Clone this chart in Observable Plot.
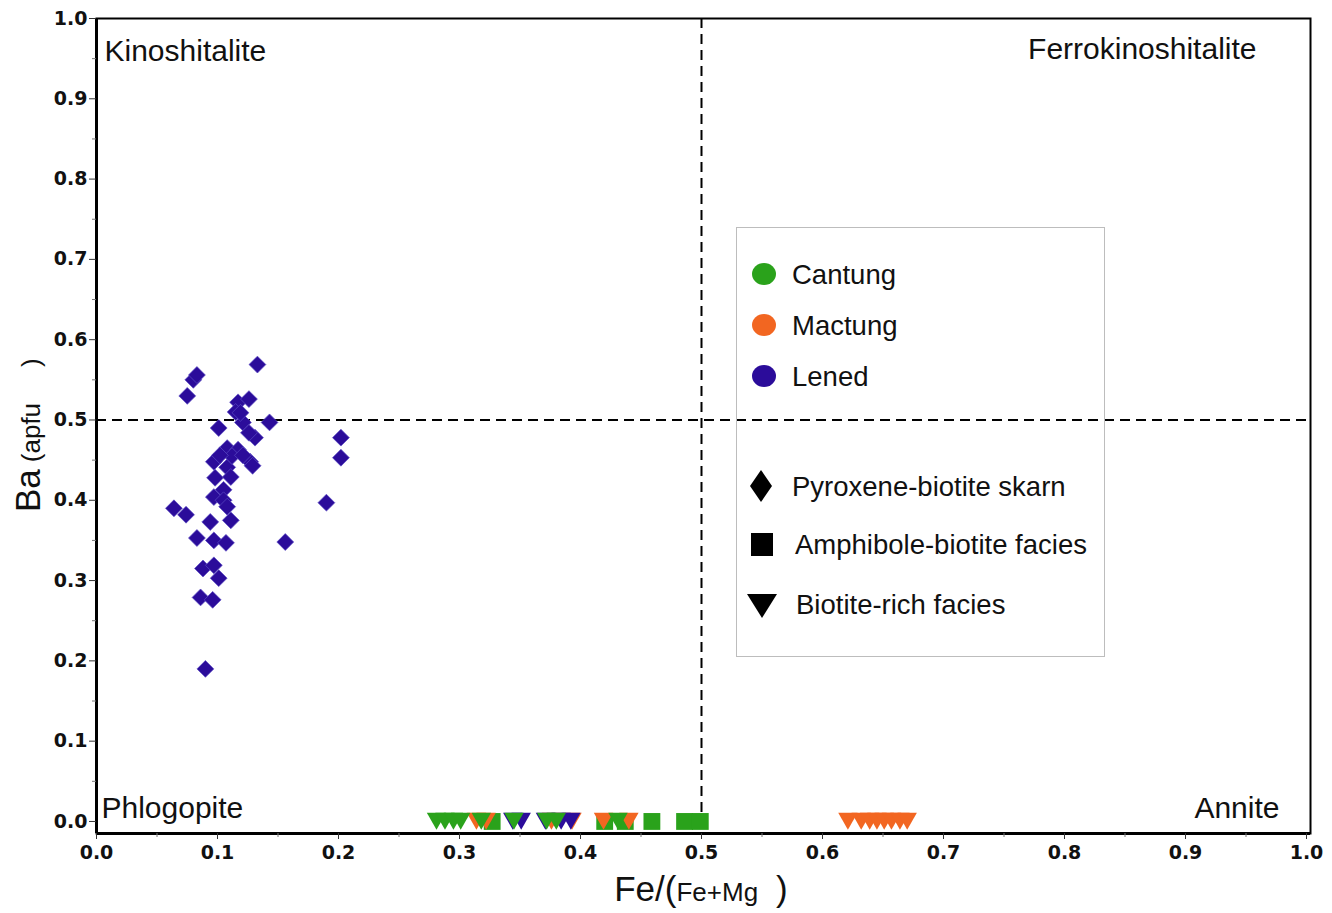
<!DOCTYPE html>
<html><head><meta charset="utf-8">
<script src="https://cdn.jsdelivr.net/npm/d3@7"></script>
<script src="https://cdn.jsdelivr.net/npm/@observablehq/plot@0.6"></script>
<style>
body{margin:0;background:#fff;}
#wrap{position:relative;width:1332px;height:913px;overflow:hidden;}
#legend{position:absolute;left:736px;top:227px;}
</style></head><body><div id="wrap"></div>
<script>
// ---- data ----
const series = ["Cantung", "Mactung", "Lened"];
const seriesColors = ["#2aa21b", "#f26621", "#2b0c9a"];
const faciesNames = ["Pyroxene-biotite skarn", "Amphibole-biotite facies", "Biotite-rich facies"];
const quadrantLabels = ["Kinoshitalite", "Ferrokinoshitalite", "Phlogopite", "Annite"];

// Lened, pyroxene-biotite skarn (Fe/(Fe+Mg), Ba apfu)
const lenedPyxX = [0.133,0.080,0.083,0.075,0.117,0.126,0.115,0.121,0.101,0.143,0.131,0.202,0.202,0.190,0.156,0.119,0.126,0.108,0.117,0.127,0.097,0.108,0.129,0.098,0.111,0.105,0.097,0.105,0.064,0.074,0.108,0.094,0.111,0.083,0.097,0.107,0.088,0.097,0.101,0.086,0.096,0.090,0.112,0.121,0.102];
const lenedPyxY = [0.569,0.550,0.556,0.530,0.522,0.526,0.510,0.497,0.490,0.497,0.478,0.478,0.453,0.397,0.348,0.509,0.484,0.465,0.463,0.448,0.448,0.441,0.443,0.428,0.429,0.413,0.404,0.400,0.390,0.382,0.392,0.373,0.375,0.353,0.350,0.347,0.315,0.319,0.303,0.279,0.276,0.190,0.455,0.456,0.456];

// Ba = 0 samples
const cantungSqX = [0.327,0.420,0.437,0.459,0.486,0.499];
const cantungSqY = [0,0,0,0,0,0];
const cantungTriX = [0.281,0.288,0.295,0.301,0.318,0.345,0.372,0.380,0.431];
const cantungTriY = [0,0,0,0,0,0,0,0,0];
const mactungTriX = [0.314,0.322,0.376,0.393,0.419,0.440,0.621,0.632,0.639,0.645,0.651,0.657,0.664,0.670];
const mactungTriY = [0,0,0,0,0,0,0,0,0,0,0,0,0,0];
const lenedTriX = [0.344,0.351,0.371,0.384,0.392];
const lenedTriY = [0,0,0,0,0];

const xTicks = [0,0.1,0.2,0.3,0.4,0.5,0.6,0.7,0.8,0.9,1.0];
const xMinorTicks = [0.05,0.15,0.25,0.35,0.45,0.55,0.65,0.75,0.85,0.95];
const yTicks = [0,0.1,0.2,0.3,0.4,0.5,0.6,0.7,0.8,0.9,1.0];
const yMinorTicks = [0.05,0.15,0.25,0.35,0.45,0.55,0.65,0.75,0.85,0.95];
const boundary = [0.5];

// ---- build tables ----
const rows = (xs, ys, s) => xs.map((x, i) => ({x, y: ys[i], series: s}));
const diamonds = rows(lenedPyxX, lenedPyxY, "Lened");
const squares = rows(cantungSqX, cantungSqY, "Cantung");
const triangles = [
  ...rows(mactungTriX, mactungTriY, "Mactung"),
  ...rows(lenedTriX, lenedTriY, "Lened"),
  ...rows(cantungTriX, cantungTriY, "Cantung")
];

const fmt = d3.format(".1f");
const tickFont = {fontSize: 19, fontWeight: "bold", fontFamily: "DejaVu Sans, Verdana, sans-serif"};

const chart = Plot.plot({
  width: 1332, height: 913,
  marginLeft: 96, marginRight: 22, marginTop: 18, marginBottom: 80,
  x: {domain: [0, 1.0033], axis: null},
  y: {domain: [-0.015, 1.0], axis: null},
  color: {domain: series, range: seriesColors},
  style: {fontFamily: "'Liberation Sans', Arial, sans-serif", background: "white", overflow: "visible"},
  marks: [
    Plot.ruleX(boundary, {stroke: "black", strokeWidth: 2, strokeDasharray: "10,6"}),
    Plot.ruleY(boundary, {stroke: "black", strokeWidth: 2, strokeDasharray: "10,6"}),
    Plot.dot(squares, {x: "x", y: "y", symbol: "square", r: 9.5, fill: "series"}),
    Plot.dot(triangles, {x: "x", y: "y", symbol: "triangle", rotate: 180, r: 7.2, fill: "series", dy: -3}),
    Plot.dot(diamonds, {x: "x", y: "y", symbol: "diamond2", r: 7.6, fill: "series", stroke: "#5b4cc4", strokeWidth: 0.7}),
    Plot.text([quadrantLabels[0]], {text: d => d, frameAnchor: "top-left", textAnchor: "start", lineAnchor: "middle", dx: 8, dy: 33, fontSize: 30, fill: "#111"}),
    Plot.text([quadrantLabels[1]], {text: d => d, frameAnchor: "top-right", textAnchor: "end", lineAnchor: "middle", dx: -54, dy: 31, fontSize: 30, fill: "#111"}),
    Plot.text([quadrantLabels[2]], {text: d => d, frameAnchor: "bottom-left", textAnchor: "start", lineAnchor: "middle", dx: 5, dy: -25, fontSize: 30, fill: "#111"}),
    Plot.text([quadrantLabels[3]], {text: d => d, frameAnchor: "bottom-right", textAnchor: "end", lineAnchor: "middle", dx: -31, dy: -25, fontSize: 30, fill: "#111"}),
    Plot.frame({stroke: "black", strokeWidth: 2}),
    Plot.ruleX([0], {stroke: "black", strokeWidth: 3}),
    Plot.ruleY([-0.015], {stroke: "black", strokeWidth: 3}),
    Plot.axisX(xTicks, {anchor: "bottom", label: null, tickSize: 6, tickPadding: 6, tickFormat: fmt, ...tickFont, fill: "#111", stroke: "#333"}),
    Plot.axisX(xMinorTicks, {anchor: "bottom", label: null, tickSize: 4, tickFormat: () => "", stroke: "#777"}),
    Plot.axisY(yTicks, {anchor: "left", label: null, tickSize: 7, tickPadding: 2, tickFormat: fmt, ...tickFont, fill: "#111", stroke: "#333"}),
    Plot.axisY(yMinorTicks, {anchor: "left", label: null, tickSize: 4, tickFormat: () => "", stroke: "#777"})
  ]
});

const wrap = document.getElementById("wrap");
wrap.appendChild(chart);

// ---- axis titles ----
const svg = d3.select(chart);
const xt = svg.append("text").attr("x", 701).attr("y", 901).attr("text-anchor", "middle")
  .attr("font-family", "'Liberation Sans', Arial, sans-serif").attr("fill", "#111");
xt.append("tspan").attr("font-size", 35).text("Fe/(");
xt.append("tspan").attr("font-size", 26).text("Fe+Mg");
xt.append("tspan").attr("font-size", 35).attr("dx", 18).text(")");

const yt = svg.append("text").attr("transform", "translate(40,512) rotate(-90)").attr("text-anchor", "start")
  .attr("font-family", "'Liberation Sans', Arial, sans-serif").attr("fill", "#111");
yt.append("tspan").attr("font-size", 35).text("Ba");
yt.append("tspan").attr("font-size", 26).attr("dx", 7).text("(apfu");
yt.append("tspan").attr("font-size", 26).attr("dx", 36).text(")");

// ---- legend ----
const lg = d3.select(wrap).append("svg").attr("id", "legend").attr("width", 370).attr("height", 431);
lg.append("rect").attr("x", 0.5).attr("y", 0.5).attr("width", 368).attr("height", 429)
  .attr("fill", "none").attr("stroke", "#bdbdbd").attr("stroke-width", 1);
const rowY = [47, 98, 149];
series.forEach((s, i) => {
  lg.append("ellipse").attr("cx", 28).attr("cy", rowY[i]).attr("rx", 12).attr("ry", 11).attr("fill", seriesColors[i]);
  lg.append("text").attr("x", 56).attr("y", rowY[i]).attr("dy", "0.35em").attr("font-size", 27.5)
    .attr("font-family", "'Liberation Sans', Arial, sans-serif").attr("fill", "#111").text(s);
});
const fY = [259, 317, 377];
const fX = [56, 59, 60];
lg.append("polygon").attr("points", "25,243 36,259 25,275 14,259").attr("fill", "black");
lg.append("rect").attr("x", 15).attr("y", 306).attr("width", 22).attr("height", 23).attr("fill", "black");
lg.append("polygon").attr("points", "11,367 41,367 26,391").attr("fill", "black");
faciesNames.forEach((f, i) => {
  lg.append("text").attr("x", fX[i]).attr("y", fY[i]).attr("dy", "0.35em").attr("font-size", 27.5)
    .attr("font-family", "'Liberation Sans', Arial, sans-serif").attr("fill", "#111").text(f);
});
</script>
</body></html>
